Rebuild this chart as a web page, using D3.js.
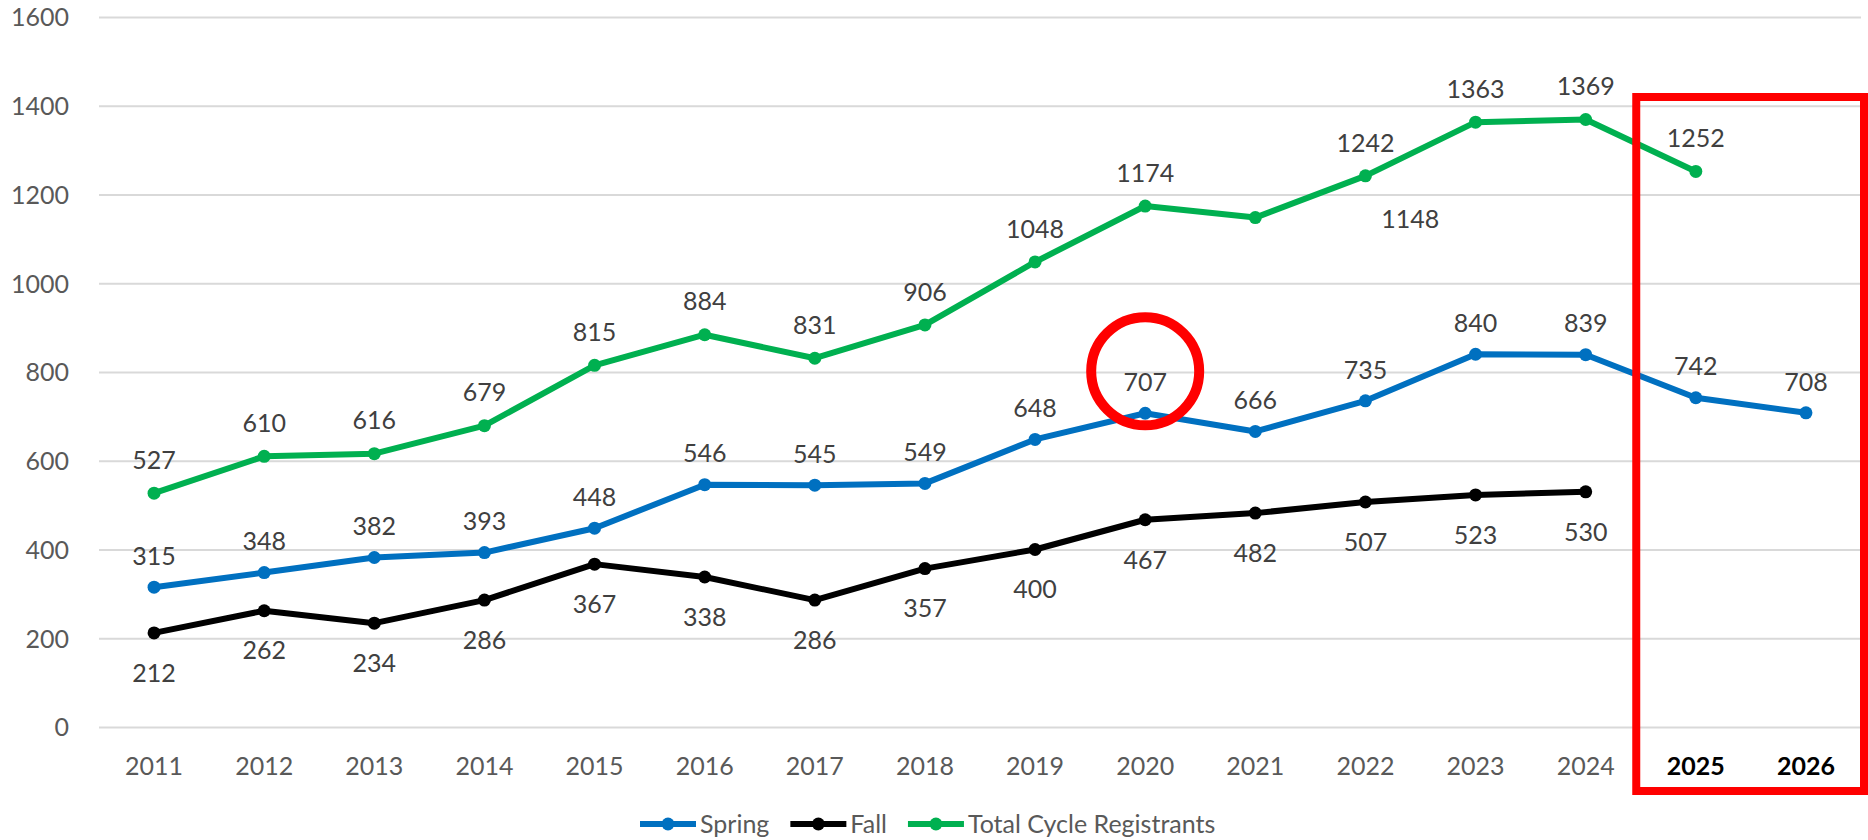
<!DOCTYPE html>
<html>
<head>
<meta charset="utf-8">
<script src="https://cdn.jsdelivr.net/npm/d3@7"></script>
<style>
  body { margin: 0; background: #fff; }
  text { font-family: Lato, "Open Sans", sans-serif; }
</style>
</head>
<body>
<div id="chart"></div>
<script>
const chart_width = 1868;
const chart_height = 840;

// data
const years = ['2011', '2012', '2013', '2014', '2015', '2016', '2017', '2018',
    '2019', '2020', '2021', '2022', '2023', '2024', '2025', '2026'];
const spring = [315, 348, 382, 393, 448, 546, 545, 549, 648, 707, 666, 735, 840, 839, 742, 708];
const fall = [212, 262, 234, 286, 367, 338, 286, 357, 400, 467, 482, 507, 523, 530];
const total = [527, 610, 616, 679, 815, 884, 831, 906, 1048, 1174, 1148, 1242, 1363, 1369, 1252];
const y_ticks = [0, 200, 400, 600, 800, 1000, 1200, 1400, 1600];
const highlight_years = ['2025', '2026'];
const highlight_point = '2020';

const series = [
    { name: 'Spring', values: spring, color: '#0070C0', label_dy: -31 },
    { name: 'Fall', values: fall, color: '#000000', label_dy: 40 },
    { name: 'Total Cycle Registrants', values: total, color: '#00B050', label_dy: -33 }
];

const margin = { left: 99, right: 7, top: 17, bottom: 113 };

const svg = d3.select('#chart')
    .append('svg')
    .attr('width', chart_width)
    .attr('height', chart_height);

//--------------------------------------------------------------------
// scales
const x_scale = d3.scaleBand()
    .domain(years)
    .range([margin.left, chart_width - margin.right]);

const y_scale = d3.scaleLinear()
    .domain([0, 1600])
    .range([chart_height - margin.bottom, margin.top]);

const cx = d => x_scale(d) + x_scale.bandwidth() / 2;

//--------------------------------------------------------------------
// axes
const y_axis = d3.axisLeft(y_scale)
    .tickValues(y_ticks)
    .tickFormat(d3.format('d'))
    .tickSize(-(chart_width - margin.left - margin.right))
    .tickPadding(30);

const gy = svg.append('g')
    .attr('class', 'y-axis')
    .attr('transform', 'translate(' + margin.left + ',0)')
    .call(y_axis);
gy.select('.domain').remove();
gy.selectAll('line').attr('stroke', '#d9d9d9').attr('stroke-width', 2);
gy.selectAll('text')
    .attr('font-size', 25)
    .attr('fill', '#595959')
    .attr('dy', '0.35em');

const x_axis = d3.axisBottom(x_scale)
    .tickSize(0);

const gx = svg.append('g')
    .attr('class', 'x-axis')
    .attr('transform', 'translate(0,' + y_scale(0) + ')')
    .call(x_axis);
gx.select('.domain').remove();
gx.selectAll('text')
    .attr('font-size', 25)
    .attr('y', 39)
    .attr('dy', '0.35em')
    .attr('fill', d => highlight_years.includes(d) ? '#000' : '#595959')
    .attr('font-weight', d => highlight_years.includes(d) ? 'bold' : 'normal');

//--------------------------------------------------------------------
// lines, markers, labels
const line = d3.line()
    .x((d, i) => cx(years[i]))
    .y(d => y_scale(d));

series.forEach(s => {
    svg.append('path')
        .datum(s.values)
        .attr('fill', 'none')
        .attr('stroke', s.color)
        .attr('stroke-width', 6)
        .attr('stroke-linejoin', 'round')
        .attr('d', line);

    svg.append('g').selectAll('circle')
        .data(s.values)
        .enter()
        .append('circle')
        .attr('cx', (d, i) => cx(years[i]))
        .attr('cy', d => y_scale(d))
        .attr('r', 6.5)
        .attr('fill', s.color);
});

series.forEach(s => {
    svg.append('g').selectAll('text')
        .data(s.values)
        .enter()
        .append('text')
        .text(d => d)
        .attr('text-anchor', 'middle')
        .attr('font-size', 25)
        .attr('fill', '#404040')
        .attr('dy', '0.35em')
        .attr('x', (d, i) => {
            // the 2021 total label sits off to the right in the original
            if (s.name === 'Total Cycle Registrants' && years[i] === '2021') return cx(years[i]) + 155;
            return cx(years[i]);
        })
        .attr('y', (d, i) => {
            if (s.name === 'Total Cycle Registrants' && years[i] === '2021') return y_scale(d) + 2;
            return y_scale(d) + s.label_dy;
        });
});

//--------------------------------------------------------------------
// red annotations
const hi_idx = years.indexOf(highlight_point);
svg.append('circle')
    .attr('cx', cx(highlight_point))
    .attr('cy', y_scale(spring[hi_idx]) - 42)
    .attr('r', 54)
    .attr('fill', 'none')
    .attr('stroke', '#FF0000')
    .attr('stroke-width', 10);

const box_left = x_scale(highlight_years[0]) - 4.5;
svg.append('rect')
    .attr('x', box_left)
    .attr('y', 97)
    .attr('width', chart_width - 4 - box_left)
    .attr('height', 694)
    .attr('fill', 'none')
    .attr('stroke', '#FF0000')
    .attr('stroke-width', 8);

//--------------------------------------------------------------------
// legend
const legend = svg.append('g').attr('class', 'legend');
const legend_y = 824;
const items = legend.selectAll('g')
    .data(series)
    .enter()
    .append('g');

items.append('line')
    .attr('x1', 0).attr('x2', 56)
    .attr('y1', 0).attr('y2', 0)
    .attr('stroke', d => d.color)
    .attr('stroke-width', 6);
items.append('circle')
    .attr('cx', 28).attr('cy', 0).attr('r', 6.5)
    .attr('fill', d => d.color);
items.append('text')
    .text(d => d.name)
    .attr('x', 60)
    .attr('dy', '0.35em')
    .attr('font-size', 25)
    .attr('fill', '#595959');

const widths = [];
items.each(function () {
    const w = 60 + d3.select(this).select('text').node().getComputedTextLength();
    widths.push(w);
});
let offset = 640;
items.attr('transform', (d, i) => {
    const t = 'translate(' + offset + ',' + legend_y + ')';
    offset += widths[i] + 21;
    return t;
});
</script>
</body>
</html>
